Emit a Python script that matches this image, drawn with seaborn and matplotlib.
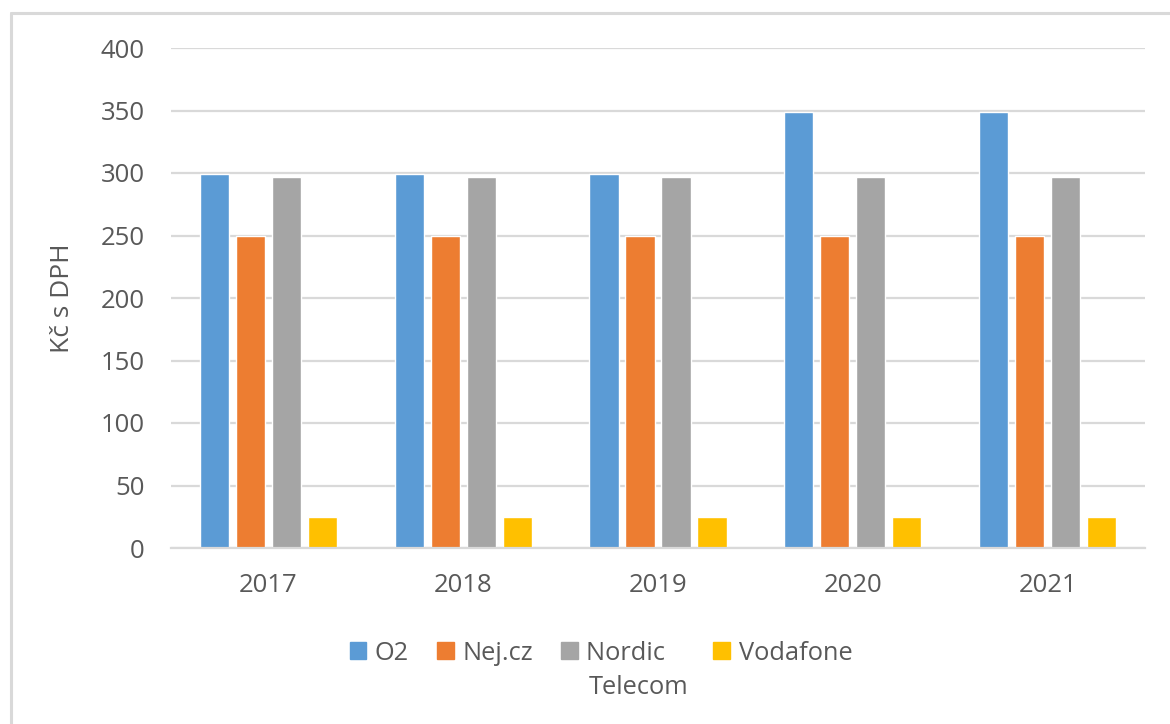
import matplotlib
matplotlib.use("Agg")
import matplotlib.pyplot as plt
import seaborn as sns
import pandas as pd
from matplotlib.lines import Line2D
from matplotlib.patches import Patch

years = ["2017", "2018", "2019", "2020", "2021"]
series = ["O2", "Nej.cz", "Nordic Telecom", "Vodafone"]
o2 = [299, 299, 299, 349, 349]
nej = [250, 250, 250, 250, 250]
nordic = [297, 297, 297, 297, 297]
vodafone = [25, 25, 25, 25, 25]
colors = ["#5B9BD5", "#ED7D31", "#A5A5A5", "#FFC000"]

rows = []
for name, vals in zip(series, [o2, nej, nordic, vodafone]):
    for y, v in zip(years, vals):
        rows.append({"Rok": y, "Série": name, "Hodnota": v})
df = pd.DataFrame(rows)

sns.set_theme(style="white")
plt.rcParams['font.family'] = ['Open Sans', 'DejaVu Sans']
txt = "#595959"

fig = plt.figure(figsize=(11.7, 7.24), dpi=100)
W, H = 1170, 724
x0, x1 = 171, 1145
ax = fig.add_axes([x0 / W, 1 - 548 / H, (x1 - x0) / W, (548 - 48) / H])

sns.barplot(data=df, x="Rok", y="Hodnota", hue="Série", order=years,
            hue_order=series, palette=colors, width=0.74, gap=0.19,
            ax=ax, legend=False, saturation=1, errorbar=None)

ax.set_ylim(0, 400)
ax.set_yticks(range(0, 401, 50))
ax.yaxis.grid(True, color="#D9D9D9", linewidth=1.6)
ax.set_axisbelow(True)
for s in ["top", "right", "left"]:
    ax.spines[s].set_visible(False)
ax.spines["bottom"].set_color("#D9D9D9")
ax.spines["bottom"].set_linewidth(1.6)
ax.tick_params(axis="both", length=0, labelsize=18.5, colors=txt)
ax.tick_params(axis="y", pad=19)
ax.tick_params(axis="x", pad=18)
ax.set_xlabel("")
ax.set_ylabel("Kč s DPH", fontsize=19, color=txt)
ax.yaxis.set_label_coords((75 - x0) / (x1 - x0), 0.5)

fs_leg = 18.3
labels = ["O2", "Nej.cz", "Nordic   ", "Vodafone"]
handles = [Patch(facecolor=c, edgecolor=c) for c in colors]
leg = fig.legend(handles, labels, loc="center", ncol=4,
                 bbox_to_anchor=(601 / W, 1 - 653 / H), frameon=False,
                 fontsize=fs_leg, handlelength=0.65, handleheight=0.65,
                 handletextpad=0.35, columnspacing=1.1, borderpad=0)
for t in leg.get_texts():
    t.set_color(txt)
fig.canvas.draw()
nt = leg.get_texts()[2]
bb = nt.get_window_extent()
fig.text((bb.x0 + 2) / W, (bb.y0 - 28) / H, "Telecom", fontsize=fs_leg, color=txt)

fig.add_artist(Line2D([11 / W, 11 / W], [0, 1 - 13 / H], transform=fig.transFigure,
                      color="#D9D9D9", linewidth=2.2))
fig.add_artist(Line2D([11 / W, 1], [1 - 13 / H, 1 - 13 / H], transform=fig.transFigure,
                      color="#D9D9D9", linewidth=2.2))

fig.savefig("out.png", dpi=100, facecolor="white")
